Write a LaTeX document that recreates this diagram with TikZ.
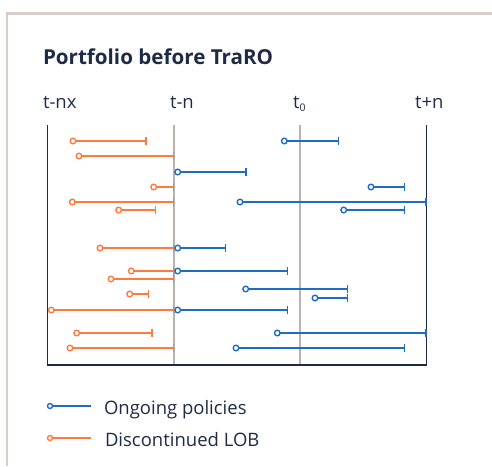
\documentclass[tikz,border=0pt]{standalone}
\usepackage{fontspec}
\setmainfont{Open Sans}
\usetikzlibrary{arrows.meta}
\definecolor{navy}{HTML}{1D2B45}
\definecolor{frameg}{HTML}{D5CFCB}
\definecolor{gridg}{HTML}{B9B3AD}
\definecolor{ongo}{HTML}{1F6CC4}
\definecolor{disc}{HTML}{FF7A3C}
\tikzset{
  every node/.style={inner sep=0pt, outer sep=0pt, text=navy},
  circb/.style={circle, draw=ongo, fill=white, line width=1.4pt, minimum size=5.6pt},
  circo/.style={circle, draw=disc, fill=white, line width=1.4pt, minimum size=5.6pt},
  lineb/.style={draw=ongo, line width=1.6pt, -{Bar[width=8pt,line width=1.5pt]}},
  lineo/.style={draw=disc, line width=1.6pt, -{Bar[width=8pt,line width=1.5pt]}},
  axisdark/.style={draw=navy, line width=1.3pt},
  axisgrey/.style={draw=gridg, line width=1.6pt},
  lab/.style={anchor=base west, font=\fontsize{18.5}{22}\selectfont},
  legtext/.style={anchor=base west, font=\fontsize{18.5}{22}\selectfont},
}
\begin{document}
\begin{tikzpicture}[x=1pt,y=-1pt]
\useasboundingbox (0,0) rectangle (492,466);
% frame
\draw[frameg, line width=2.4pt] (7,466) -- (7,13.5) -- (492,13.5);
% title
\node[anchor=base west, font=\fontsize{20.6}{25}\selectfont\bfseries] (title) at (43,64) {Portfolio before TraRO};
% axis labels
\node[lab] (l1) at (43,108) {t-nx};
\node[lab] (l2) at (170,108) {t-n};
\node[lab] (l3) at (293,108) {t\raisebox{-0.4ex}{\fontsize{10.5}{12}\selectfont 0}};
\node[lab] (l4) at (415,108) {t+n};
% axis coordinates
\coordinate (aL) at (47.5,125);
\coordinate (aLb) at (47.5,365);
\coordinate (aR) at (426.5,125);
\coordinate (aRb) at (426.5,365);
\coordinate (g1) at (174,125);
\coordinate (g1b) at (174,365);
\coordinate (g2) at (300,125);
\coordinate (g2b) at (300,365);
\draw[axisgrey] (g1) -- (g1b);
\draw[axisgrey] (g2) -- (g2b);
\draw[axisdark] (aL) -- (aLb) -- (aRb) -- (aR);
% orange bars: start x, end x, y
\foreach \s/\e/\y [count=\i] in {73/146.7/141, 79/174/156, 153.7/174/187, 72.3/174/202, 118.7/156/210,
  100/174/248, 131.3/174/271, 111/174/279, 129.7/149/294, 51.3/174/310, 76.7/152.7/333, 70/174/348}{
  \coordinate (oe\i) at (\e,\y);
  \node[circo] (os\i) at (\s,\y) {};
  \draw[lineo] (os\i) -- (oe\i);
}
% blue bars
\foreach \s/\e/\y [count=\i] in {284.3/339.3/141, 177.7/246.7/172, 371/405/187, 240/426.5/202, 343.7/405/210,
  177.7/226/248, 177.7/288.3/271, 245.7/348.3/289, 315/348.3/298, 177.7/288.3/310, 277.3/426.5/333, 236/405/348}{
  \coordinate (be\i) at (\e,\y);
  \node[circb] (bs\i) at (\s,\y) {};
  \draw[lineb] (bs\i) -- (be\i);
}
% legend
\node[circb, minimum size=5pt] (lb) at (50,406) {};
\coordinate (lbe) at (90.7,406);
\draw[draw=ongo, line width=1.5pt] (lb) -- (lbe);
\node[legtext] (lbt) at (104,414.3) {Ongoing policies};
\node[circo, minimum size=5pt] (lo) at (50,438) {};
\coordinate (loe) at (90.7,438);
\draw[draw=disc, line width=1.5pt] (lo) -- (loe);
\node[legtext] (lot) at (105,446.7) {Discontinued LOB};
\end{tikzpicture}
\end{document}
